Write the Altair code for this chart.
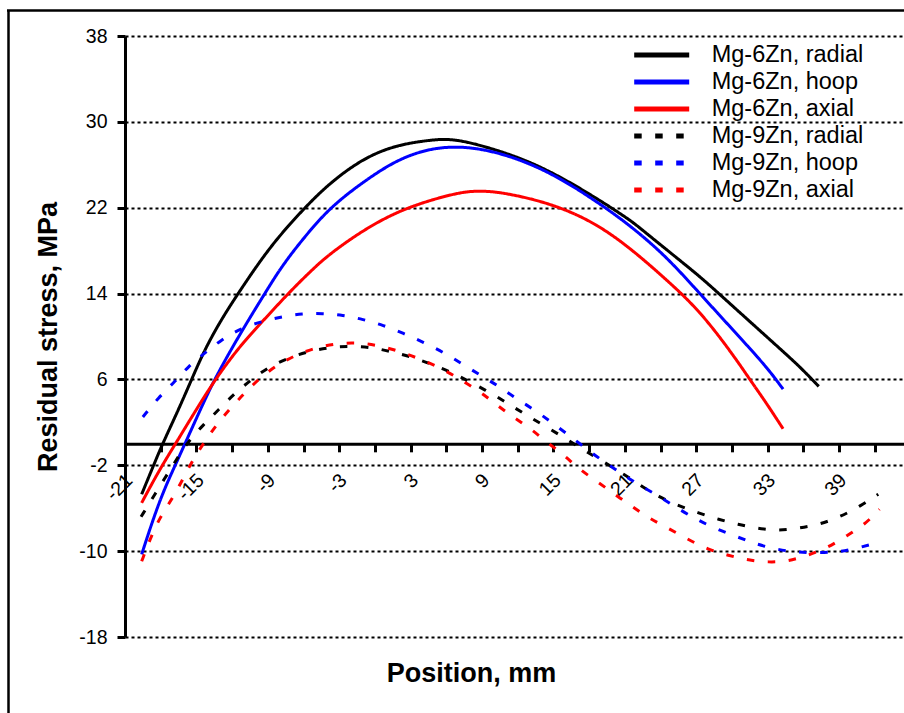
import altair as alt
import pandas as pd

series_names = ["Mg-6Zn, radial", "Mg-6Zn, hoop", "Mg-6Zn, axial",
                "Mg-9Zn, radial", "Mg-9Zn, hoop", "Mg-9Zn, axial"]
series_colors = ["#000000", "#0000ff", "#ff0000", "#000000", "#0000ff", "#ff0000"]
series_dashes = [[1, 0], [1, 0], [1, 0], [7.5, 13.5], [7.5, 13.5], [7.5, 13.5]]

x_6_radial = [-19.6, -18.3, -17.8, -16.5, -15.4, -14.3, -12.9, -11.5, -9.8, -8.1, -5.9, -3.8, -1.0, 1.8,
              4.6, 5.9, 7.4, 10.2, 13.0, 15.8, 18.6, 21.4, 22.5, 24.5, 27.3, 28.7, 31.0, 33.8, 35.7, 37.3]
y_6_radial = [-4.7, -1.2, 0.1, 3.2, 6.0, 8.8, 11.6, 14.0, 16.8, 19.3, 22.0, 24.3, 26.6, 27.85,
              28.3, 28.4, 28.25, 27.4, 26.3, 24.75, 22.9, 20.9, 19.9, 18.1, 15.6, 14.2, 11.9, 9.1, 7.2, 5.35]

x_6_hoop = [-19.6, -18.1, -16.7, -15.8, -14.3, -13.2, -11.2, -9.2, -7.8, -5.9, -3.8, -1.0, 1.8, 4.6,
            7.4, 10.2, 13.0, 15.8, 18.6, 21.4, 24.5, 27.3, 30.1, 32.9, 34.3]
y_6_hoop = [-10.3, -5.2, -1.8, 0.4, 4.1, 6.6, 10.5, 14.1, 16.6, 19.3, 22.0, 24.4, 26.45, 27.55,
            27.75, 27.2, 26.15, 24.6, 22.6, 20.4, 17.45, 14.0, 10.6, 7.2, 5.1]

x_6_axial = [-19.6, -18.1, -16.7, -14.3, -12.9, -11.2, -9.2, -7.3, -5.3, -3.8, -1.0, 1.8, 4.6, 7.4,
             8.8, 10.2, 13.0, 15.8, 18.6, 21.4, 24.5, 27.3, 30.1, 31.5, 32.9, 34.3]
y_6_axial = [-5.5, -2.4, 0.1, 4.5, 6.8, 9.3, 11.7, 14.0, 16.2, 17.7, 19.9, 21.6, 22.7, 23.5,
             23.55, 23.5, 22.9, 21.95, 20.5, 18.3, 15.3, 12.4, 8.3, 6.0, 3.8, 1.4]

x_9_radial = [-19.65, -18.6, -16.7, -15.7, -14.4, -13.1, -11.8, -10.35, -9.0, -7.3, -5.6, -3.8, -2.1, -0.3,
              1.3, 3.1, 4.8, 6.5, 8.1, 9.8, 11.4, 12.9, 14.4, 16.0, 17.5, 19.1, 21.0, 22.5, 23.8, 25.5,
              27.2, 28.9, 30.5, 32.2, 33.9, 35.7, 37.4, 39.1, 40.8, 42.3]
y_9_radial = [-6.8, -4.9, -1.5, 0.2, 1.8, 3.2, 4.7, 6.0, 7.1, 8.0, 8.6, 9.0, 9.1, 9.0,
              8.6, 8.1, 7.4, 6.65, 5.7, 4.7, 3.6, 2.55, 1.6, 0.5, -0.55, -1.6, -2.9, -4.0, -4.9, -5.75,
              -6.45, -7.05, -7.5, -7.9, -8.1, -7.85, -7.5, -6.8, -5.8, -4.7]

x_9_hoop = [-19.5, -18.2, -16.8, -15.7, -14.3, -12.9, -11.2, -9.5, -7.8, -6.1, -4.4, -2.7, -1.0, 0.7,
            2.4, 4.1, 5.8, 7.4, 9.0, 10.5, 11.9, 13.5, 14.9, 16.3, 17.7, 19.2, 20.6, 22.1, 23.7, 25.2,
            26.8, 28.4, 30.3, 31.9, 33.6, 35.3, 37.0, 38.8, 40.3, 42.1]
y_9_hoop = [2.5, 4.3, 5.8, 7.2, 8.45, 9.7, 10.8, 11.4, 11.85, 12.15, 12.15, 12.0, 11.6, 11.05,
            10.3, 9.45, 8.5, 7.4, 6.3, 5.3, 4.2, 3.1, 1.95, 0.8, -0.4, -1.65, -2.65, -3.8, -4.75, -5.85,
            -6.9, -7.8, -8.6, -9.3, -9.8, -10.1, -10.15, -10.1, -9.8, -9.25]

x_9_axial = [-19.6, -18.9, -18.1, -16.9, -16.1, -15.3, -14.3, -13.3, -12.0, -10.8, -9.5, -8.0, -6.3, -4.5,
             -2.8, -1.1, 0.6, 2.4, 4.0, 5.75, 7.3, 8.8, 10.2, 11.6, 13.05, 14.5, 16.0, 17.2, 18.8, 20.2,
             21.7, 23.0, 24.7, 26.3, 28.0, 29.7, 31.4, 33.1, 34.7, 36.4, 38.1, 39.6, 41.2, 42.4]
y_9_axial = [-10.95, -8.9, -6.9, -4.9, -3.2, -1.5, 0.2, 1.8, 3.5, 4.9, 6.3, 7.5, 8.45, 9.1,
             9.4, 9.4, 9.1, 8.5, 7.8, 6.95, 5.9, 4.9, 3.65, 2.5, 1.45, 0.1, -1.15, -2.4, -3.6, -4.75,
             -5.9, -6.9, -7.9, -8.9, -9.85, -10.4, -10.85, -11.05, -10.95, -10.4, -9.65, -8.6, -7.5, -6.1]

x_lists = [x_6_radial, x_6_hoop, x_6_axial, x_9_radial, x_9_hoop, x_9_axial]
y_lists = [y_6_radial, y_6_hoop, y_6_axial, y_9_radial, y_9_hoop, y_9_axial]

y_tick_values = [-18, -10, -2, 6, 14, 22, 30, 38]
x_tick_values = list(range(-21, 43, 3))

rows = []
for name, xs, ys in zip(series_names, x_lists, y_lists):
    for i, (a, b) in enumerate(zip(xs, ys)):
        rows.append({"series": name, "x": a, "y": b, "i": i})
df = pd.DataFrame(rows)

FONT = "Liberation Sans"
PLOT_W, PLOT_H = 779, 601
X_MIN, Y_MIN, Y_MAX = -21, -18, 38
X_MAX = X_MIN + PLOT_W / 11.9
zero_px = PLOT_H * (Y_MAX - 0) / (Y_MAX - Y_MIN)
x_axis_offset = zero_px - PLOT_H

legend = alt.Legend(
    title=None, orient="none", legendX=506.7, legendY=5.6, padding=0, offset=0,
    symbolType="stroke", symbolSize=3025, symbolStrokeWidth=5, labelOffset=20,
    rowPadding=0, clipHeight=26.8, labelFont=FONT, labelFontSize=23.5,
    labelColor="black", labelLimit=300, symbolOpacity=1,
)

x_enc = alt.X("x:Q",
    scale=alt.Scale(domain=[X_MIN, X_MAX], nice=False, zero=False),
    axis=alt.Axis(
        values=x_tick_values, grid=False, offset=x_axis_offset,
        domainColor="black", domainWidth=3, tickColor="black", tickWidth=3, tickSize=8,
        labelExpr="(datum.value + 21) % 6 == 0 ? '' + datum.value : ''",
        labelAngle=-45, labelAlign="right", labelBaseline="middle", labelOffset=4,
        labelPadding=25, labelFont=FONT, labelFontSize=19.5, labelColor="black",
        labelFlush=False, labelOverlap=False,
        title="Position, mm", titleFont=FONT, titleFontSize=27, titleFontWeight="bold",
        titleColor="black", titleX=346, titleY=238, titleAlign="center",
        titleBaseline="alphabetic", titleAngle=0,
    ))
y_enc = alt.Y("y:Q",
    scale=alt.Scale(domain=[Y_MIN, Y_MAX], nice=False, zero=False),
    axis=alt.Axis(
        values=y_tick_values, grid=True, gridColor="black", gridWidth=2, gridDash=[3, 3],
        gridOpacity=1, domainColor="black", domainWidth=3, tickColor="black", tickWidth=3,
        tickSize=8, labelExpr="'' + datum.value", labelPadding=10, labelFont=FONT,
        labelFontSize=19.5, labelColor="black",
        title="Residual stress, MPa", titleFont=FONT, titleFontSize=27, titleFontWeight="bold",
        titleColor="black", titleX=-69, titleY=PLOT_H / 2, titleAngle=270,
        titleAlign="center", titleBaseline="alphabetic",
    ))
color_enc = alt.Color("series:N", scale=alt.Scale(domain=series_names, range=series_colors),
                      legend=legend)
dash_enc = alt.StrokeDash("series:N", scale=alt.Scale(domain=series_names, range=series_dashes),
                          legend=legend)

layers = []
for name in series_names:
    layers.append(
        alt.Chart(df).transform_filter(alt.datum.series == name)
        .mark_line(strokeWidth=3, interpolate="basis", strokeCap="butt")
        .encode(x=x_enc, y=y_enc, color=color_enc, strokeDash=dash_enc, order="i:Q")
    )

frame_df = pd.DataFrame({"k": [0]})
frame_left = alt.Chart(frame_df).mark_rule(color="black", strokeWidth=2.5).encode(
    x=alt.value(-116.5), y=alt.value(-26), y2=alt.value(700))
frame_top = alt.Chart(frame_df).mark_rule(color="black", strokeWidth=2.5).encode(
    x=alt.value(-118), x2=alt.value(800), y=alt.value(-25.5))

chart = alt.layer(frame_left, frame_top, *layers).properties(
    width=PLOT_W, height=PLOT_H,
    autosize=alt.AutoSizeParams(type="none"),
    padding={"left": 125, "top": 36, "right": 0, "bottom": 76},
    background="white",
).configure_view(stroke=None)

chart.save("out.html", embed_options={"renderer": "svg", "actions": False})
